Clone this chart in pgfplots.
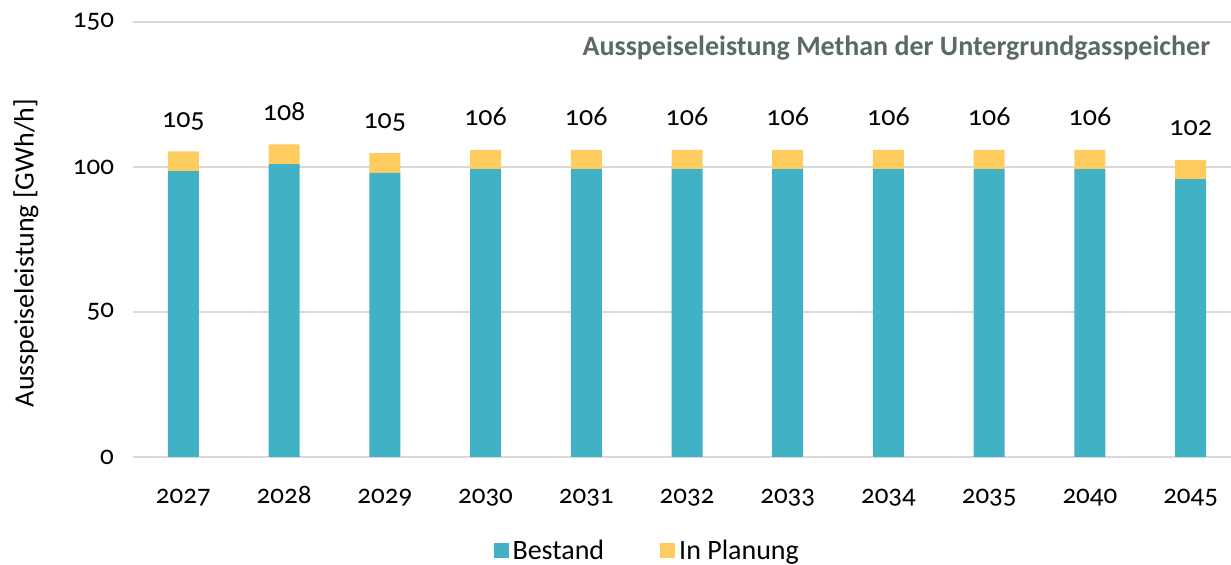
\documentclass[border=0pt]{standalone}
\usepackage{fontspec}
\setmainfont{Carlito}[Numbers=OldStyle]
\usepackage{pgfplots}
\pgfplotsset{compat=1.18}
\definecolor{bestand}{HTML}{41B1C5}
\definecolor{planung}{HTML}{FFCD5F}
\definecolor{titlec}{HTML}{5B6A62}
\definecolor{gridc}{HTML}{D9D9D9}
\begin{document}
\begin{tikzpicture}[x=1pt,y=1pt]
\path[use as bounding box] (-66.5,-54) rectangle (549,228.5);
\begin{axis}[
  at={(0,0)}, anchor=south west, scale only axis,
  width=554pt, height=217.5pt,
  ybar stacked, bar width=15.5pt,
  xmin=-0.5, xmax=10.5, ymin=0, ymax=150,
  xtick={0,...,10},
  xticklabels={2027,2028,2029,2030,2031,2032,2033,2034,2035,2040,2045},
  ytick={0,50,100,150},
  ymajorgrids, grid style={draw=gridc, line width=1pt},
  axis line style={draw=none}, major tick length=0pt,
  /pgf/number format/assume math mode=true,
  ticklabel style={font=\fontsize{13.5}{16}\selectfont, text=black},
  yticklabel style={anchor=east, xshift=-6pt},
  xticklabel style={anchor=base, yshift=-23.5pt},
  ylabel={Ausspeiseleistung [GWh/h]},
  every axis y label/.style={at={(rel axis cs:0,0.469)}, rotate=90, anchor=center, yshift=53.5pt, font=\fontsize{14}{16}\selectfont},
  legend style={at={(rel axis cs:0.465,-0.216)}, anchor=center, draw=none, fill=none,
    legend columns=2, font=\fontsize{14}{16}\selectfont,
    /tikz/every even column/.append style={column sep=26pt},
    legend cell align=left, inner sep=0pt},
  every axis plot post/.append style={legend image code/.code={\fill[##1] (0pt,-3.75pt) rectangle (7.5pt,3.75pt);}},
]
\addplot[fill=bestand, draw=none] coordinates {
 (0,98.6) (1,101.0) (2,98.0) (3,99.3) (4,99.3) (5,99.3) (6,99.3) (7,99.3) (8,99.3) (9,99.3) (10,95.8)};
\addlegendentry{Bestand}
\addplot[fill=planung, draw=none, nodes near coords, point meta=explicit symbolic,
  every node near coord/.append style={anchor=base, yshift=17pt, font=\fontsize{14}{16}\selectfont, text=black}] coordinates {
 (0,6.8) [105] (1,6.8) [108] (2,6.8) [105] (3,6.6) [106] (4,6.6) [106] (5,6.6) [106] (6,6.6) [106] (7,6.6) [106] (8,6.6) [106] (9,6.6) [106] (10,6.6) [102]};
\addlegendentry{In Planung}
\node[anchor=base east, font=\bfseries\fontsize{14}{16}\selectfont, text=titlec] at (rel axis cs:0.9785,0.923) {Ausspeiseleistung Methan der Untergrundgasspeicher};
\end{axis}
\end{tikzpicture}
\end{document}
